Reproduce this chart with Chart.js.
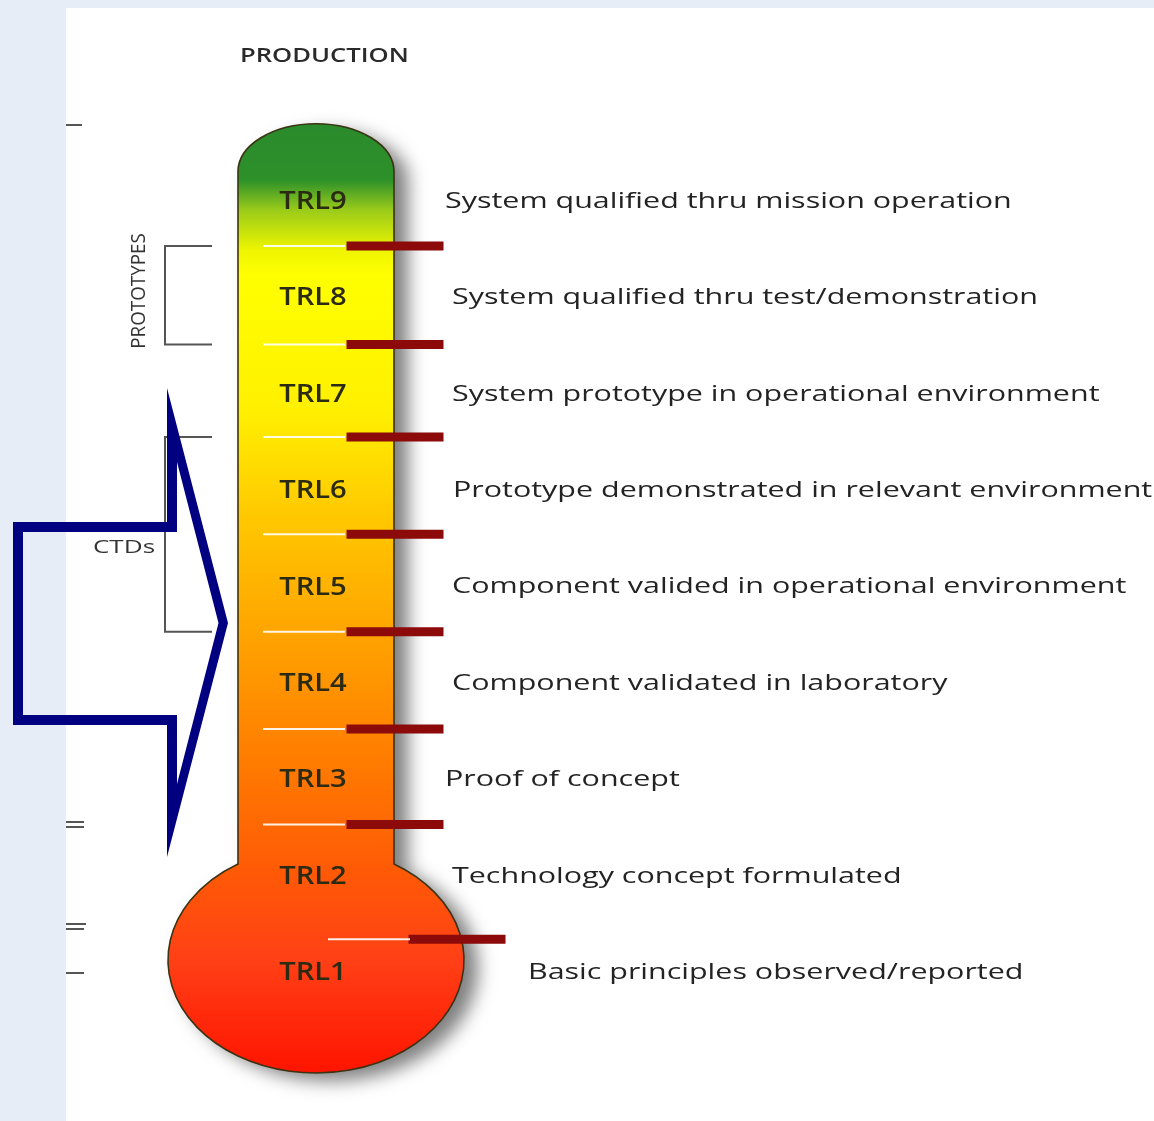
<!DOCTYPE html>
<html>
<head>
<meta charset="utf-8">
<script src="https://cdn.jsdelivr.net/npm/chart.js@4.4.1/dist/chart.umd.min.js"></script>
<style>
  html, body { margin: 0; padding: 0; background: #e6edf6; overflow: hidden; }
  #wrap { width: 1154px; height: 1121px; position: relative; }
</style>
</head>
<body>
<div id="wrap"><canvas id="c" width="1154" height="1121"></canvas></div>
<script>
// ---------------- DATA ----------------
const levelLabels = ['TRL9', 'TRL8', 'TRL7', 'TRL6', 'TRL5', 'TRL4', 'TRL3', 'TRL2', 'TRL1'];
const levelValues = [9, 8, 7, 6, 5, 4, 3, 2, 1];
const descriptions = [
  'System qualified thru mission operation',
  'System qualified thru test/demonstration',
  'System prototype in operational environment',
  'Prototype demonstrated in relevant environment',
  'Component valided in operational environment',
  'Component validated in laboratory',
  'Proof of concept',
  'Technology concept formulated',
  'Basic principles observed/reported'
];
// level boundaries where the red gauge marks sit
const boundaryValues = [8.52, 7.5, 6.54, 5.53, 4.52, 3.51, 2.52, 1.33];
const groupLabels = ['PROTOTYPES', 'CTDs'];
const groupRanges = [[7.5, 8.52], [4.52, 6.54]];
const topLabel = 'PRODUCTION';

// ---------------- LAYOUT (positions / styles) ----------------
const L = {
  yMin: -0.556, yMax: 11.073,
  tubeLeft: 238, tubeRight: 394, tubeTop: 9.79, domeRy: 48,
  bulbCx: 316, bulbCy: 1.114, bulbRx: 148, bulbRy: 113,
  tickX: 395, tickR: 48.5, bulbTickX: 457,
  whiteX: 304, whiteR: 41, bulbWhiteX: 369,
  labelX: 313,
  textDy: 2,
  descX: [445, 452, 452, 453, 452, 452, 445, 452, 528],
  stretch: 1.45,
  font: '"Open Sans", "Noto Sans", sans-serif'
};
const bulbBoundary = Math.min(...boundaryValues);

const redTicks = boundaryValues.map(v => ({ x: v === bulbBoundary ? L.bulbTickX : L.tickX, y: v }));
const whiteTicks = boundaryValues.map(v => ({ x: v === bulbBoundary ? L.bulbWhiteX : L.whiteX, y: v }));

function stretchedText(ctx, text, x, y, align, sx) {
  ctx.save();
  ctx.translate(x, y);
  ctx.scale(sx, 1);
  ctx.textAlign = align;
  ctx.fillText(text, 0, 0);
  ctx.restore();
}

const backgroundPlugin = {
  id: 'bg',
  beforeDraw(chart) {
    const ctx = chart.ctx;
    ctx.save();
    ctx.fillStyle = '#e6edf6';
    ctx.fillRect(0, 0, chart.width, chart.height);
    ctx.fillStyle = '#ffffff';
    ctx.fillRect(66, 8, chart.width - 66, chart.height - 8);
    // small marks on left edge
    ctx.strokeStyle = '#555';
    ctx.lineWidth = 2;
    [[125, 82], [822, 84], [827, 84], [924, 86], [929, 84], [973, 84]].forEach(([y, x2]) => {
      ctx.beginPath(); ctx.moveTo(66, y); ctx.lineTo(x2, y); ctx.stroke();
    });
    ctx.restore();
  }
};

const thermometerPlugin = {
  id: 'thermo',
  beforeDatasetsDraw(chart) {
    const ctx = chart.ctx;
    const ys = chart.scales.y, xs = chart.scales.x;
    const xl = xs.getPixelForValue(L.tubeLeft), xr = xs.getPixelForValue(L.tubeRight);
    const cx = xs.getPixelForValue(L.bulbCx);
    const topY = ys.getPixelForValue(L.tubeTop);
    const domeBase = topY + L.domeRy;
    const bcy = ys.getPixelForValue(L.bulbCy);
    const a = Math.acos((xr - cx) / L.bulbRx);
    const junction = bcy - L.bulbRy * Math.sin(a);
    const bottom = bcy + L.bulbRy;

    function path() {
      ctx.beginPath();
      ctx.moveTo(xl, junction);
      ctx.lineTo(xl, domeBase);
      ctx.ellipse((xl + xr) / 2, domeBase, (xr - xl) / 2, L.domeRy, 0, Math.PI, 2 * Math.PI, false);
      ctx.lineTo(xr, junction);
      ctx.ellipse(cx, bcy, L.bulbRx, L.bulbRy, 0, -a, Math.PI + a, false);
      ctx.closePath();
    }
    const g = ctx.createLinearGradient(0, topY, 0, bottom);
    const span = bottom - topY;
    const stop = (py, c) => g.addColorStop(Math.max(0, Math.min(1, (py - topY) / span)), c);
    stop(topY, '#2a8a2c');
    stop(180, '#2d912a');
    stop(210, '#9acb1a');
    stop(250, '#eef500');
    stop(275, '#ffff00');
    stop(410, '#fff000');
    stop(520, '#ffc700');
    stop(640, '#ffa200');
    stop(760, '#ff7c00');
    stop(870, '#ff5a06');
    stop(960, '#ff4016');
    stop(bottom, '#ff1400');

    ctx.save();
    ctx.shadowColor = 'rgba(0,0,0,0.5)';
    ctx.shadowBlur = 18;
    ctx.shadowOffsetX = 14;
    ctx.shadowOffsetY = 8;
    path();
    ctx.fillStyle = '#ff8000';
    ctx.fill();
    ctx.restore();

    ctx.save();
    path();
    ctx.fillStyle = g;
    ctx.fill();
    ctx.lineWidth = 1.6;
    ctx.strokeStyle = '#3b3313';
    ctx.stroke();
    ctx.restore();
  },
  afterDatasetsDraw(chart) {
    const ctx = chart.ctx;
    const ys = chart.scales.y, xs = chart.scales.x;
    ctx.save();
    ctx.textBaseline = 'middle';

    // level labels
    ctx.fillStyle = '#2b2a12';
    ctx.font = '600 25px ' + L.font;
    levelLabels.forEach((lab, i) => {
      stretchedText(ctx, lab, xs.getPixelForValue(L.labelX), ys.getPixelForValue(levelValues[i]) + L.textDy, 'center', 1.165);
    });

    // descriptions
    ctx.fillStyle = '#232323';
    ctx.font = '21px ' + L.font;
    descriptions.forEach((d, i) => {
      stretchedText(ctx, d, xs.getPixelForValue(L.descX[i]), ys.getPixelForValue(levelValues[i]) + L.textDy, 'left', L.stretch);
    });

    // production
    ctx.fillStyle = '#2a2a2a';
    ctx.font = '600 20px ' + L.font;
    stretchedText(ctx, topLabel, 240, 56, 'left', 1.28);

    // group brackets
    ctx.strokeStyle = '#555';
    ctx.lineWidth = 2;
    groupRanges.forEach(([lo, hi]) => {
      const y1 = ys.getPixelForValue(hi), y2 = ys.getPixelForValue(lo);
      ctx.beginPath();
      ctx.moveTo(212, y1); ctx.lineTo(165, y1); ctx.lineTo(165, y2); ctx.lineTo(212, y2);
      ctx.stroke();
    });
    ctx.fillStyle = '#333';
    ctx.font = '18px ' + L.font;
    // PROTOTYPES rotated
    ctx.save();
    ctx.translate(139, 291);
    ctx.rotate(-Math.PI / 2);
    ctx.scale(1.045, 1.15);
    ctx.textAlign = 'center';
    ctx.fillText(groupLabels[0], 0, 0);
    ctx.restore();
    // CTDs
    stretchedText(ctx, groupLabels[1], 124, 548, 'center', 1.45);

    // blue arrow (outline shape filled with even-odd rule)
    ctx.fillStyle = '#000080';
    ctx.beginPath();
    ctx.moveTo(13, 522); ctx.lineTo(167, 522); ctx.lineTo(167, 388); ctx.lineTo(228, 623);
    ctx.lineTo(167, 857); ctx.lineTo(167, 725); ctx.lineTo(13, 725); ctx.closePath();
    ctx.moveTo(23, 532); ctx.lineTo(177, 532); ctx.lineTo(177, 462); ctx.lineTo(218.5, 623);
    ctx.lineTo(177, 784); ctx.lineTo(177, 715); ctx.lineTo(23, 715); ctx.closePath();
    ctx.fill('evenodd');
    ctx.restore();
  }
};

new Chart(document.getElementById('c'), {
  type: 'scatter',
  data: {
    datasets: [
      {
        label: 'scale lines',
        data: whiteTicks,
        pointStyle: 'line',
        pointRadius: L.whiteR,
        pointHoverRadius: L.whiteR,
        borderColor: 'rgba(255,255,255,0.9)',
        borderWidth: 2,
        clip: false
      },
      {
        label: 'gauge marks',
        data: redTicks,
        pointStyle: 'line',
        pointRadius: L.tickR,
        pointHoverRadius: L.tickR,
        borderColor: '#8c0a0a',
        borderWidth: 9,
        clip: false
      }
    ]
  },
  options: {
    responsive: false,
    animation: false,
    events: [],
    layout: { padding: 0, autoPadding: false },
    plugins: { legend: { display: false }, tooltip: { enabled: false } },
    scales: {
      x: { type: 'linear', min: 0, max: 1154, display: false },
      y: { type: 'linear', min: L.yMin, max: L.yMax, display: false }
    }
  },
  plugins: [backgroundPlugin, thermometerPlugin]
});
</script>
</body>
</html>
